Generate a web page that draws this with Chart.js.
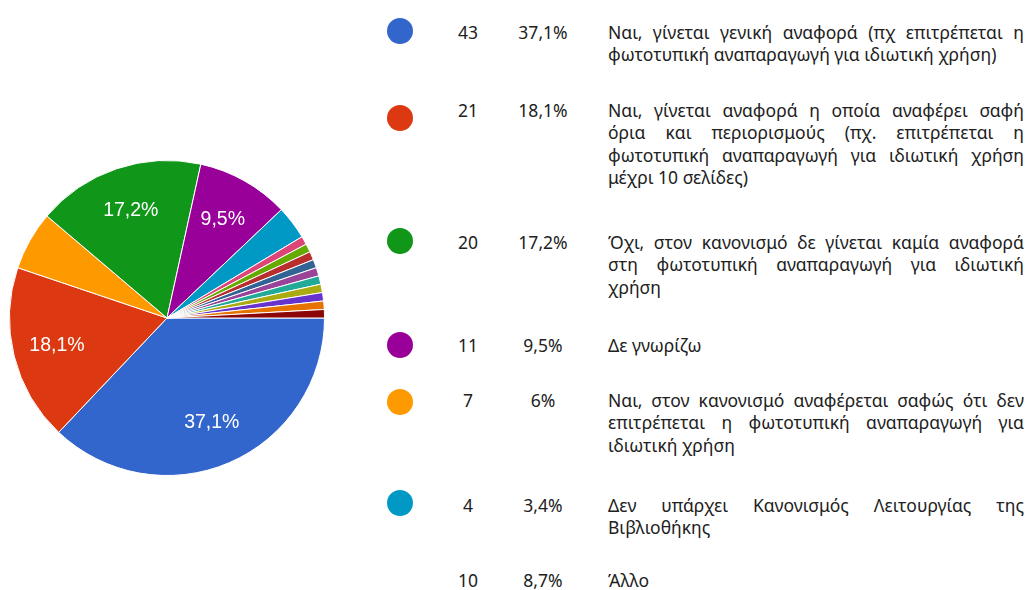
<!DOCTYPE html>
<html>
<head>
<meta charset="utf-8">
<script src="https://cdn.jsdelivr.net/npm/chart.js@4.4.1/dist/chart.umd.min.js"></script>
<style>
    html, body { margin:0; padding:0; background:#fff; }
    body { width:1033px; height:590px; position:relative; overflow:hidden;
           font-family:"Noto Sans", sans-serif; color:#212121; }
    #pieBox { position:absolute; left:9px; top:160px; width:316px; height:316px; }
    .dot { position:absolute; width:26px; height:26px; border-radius:50%; }
    .num { position:absolute; width:60px; text-align:center; font-size:17.5px; line-height:22px; }
    .txt { position:absolute; left:608px; width:416px; font-size:17.5px; }
    .line { height:22.5px; line-height:22.5px; white-space:nowrap; }
    .just { display:flex; justify-content:space-between; }
</style>
</head>
<body>
<div id="pieBox"><canvas id="chart"></canvas></div>
<div id="legend"></div>

<script>
// pie slices, in drawing order (clockwise from 3 o'clock)
const sliceValues = [43, 21, 7, 20, 11, 4, 1, 1, 1, 1, 1, 1, 1, 1, 1, 1];
const sliceColors = [
    "#3366cc","#dc3912","#ff9900","#109618","#990099","#0099c6",
    "#dd4477","#66aa00","#b82e2e","#316395","#994499","#22aa99",
    "#aaaa11","#6633cc","#e67300","#8b0707"
];

// legend table
const legendCounts = [43, 21, 20, 11, 7, 4, 10];
const legendPercents = ["37,1%", "18,1%", "17,2%", "9,5%", "6%", "3,4%", "8,7%"];
const legendColors = ["#3366cc","#dc3912","#109618","#990099","#ff9900","#0099c6", null];
const legendLines = [
    ["Ναι, γίνεται γενική αναφορά (πχ επιτρέπεται η", "φωτοτυπική αναπαραγωγή για ιδιωτική χρήση)"],
    ["Ναι, γίνεται αναφορά η οποία αναφέρει σαφή", "όρια και περιορισμούς (πχ. επιτρέπεται η",
     "φωτοτυπική αναπαραγωγή για ιδιωτική χρήση", "μέχρι 10 σελίδες)"],
    ["Όχι, στον κανονισμό δε γίνεται καμία αναφορά", "στη φωτοτυπική αναπαραγωγή για ιδιωτική", "χρήση"],
    ["Δε γνωρίζω"],
    ["Ναι, στον κανονισμό αναφέρεται σαφώς ότι δεν", "επιτρέπεται η φωτοτυπική αναπαραγωγή για", "ιδιωτική χρήση"],
    ["Δεν υπάρχει Κανονισμός Λειτουργίας της", "Βιβλιοθήκης"],
    ["Άλλο"]
];

// layout of legend rows (first line centre, dot centre)
const rowTextY = [32, 110, 242, 345, 400, 505, 580];
const rowDotY = [31, 118, 241, 345, 402, 503, null];

const legend = document.getElementById("legend");
for(let i=0;i<legendCounts.length;i++){
    const ty = rowTextY[i] - 11;
    if(legendColors[i]){
        legend.innerHTML += `<div class="dot" style="left:387px;top:${rowDotY[i]-13}px;background:${legendColors[i]}"></div>`;
    }
    legend.innerHTML += `<div class="num" style="left:438px;top:${ty}px">${legendCounts[i]}</div>`;
    legend.innerHTML += `<div class="num" style="left:513px;top:${ty}px">${legendPercents[i]}</div>`;

    const lines = legendLines[i];
    let html = "";
    lines.forEach((ln, k)=>{
        if(k < lines.length-1){
            html += `<div class="line just">${ln.split(" ").map(w=>`<span>${w}</span>`).join("")}</div>`;
        } else {
            html += `<div class="line">${ln}</div>`;
        }
    });
    legend.innerHTML += `<div class="txt" style="top:${rowTextY[i]-11.25}px">${html}</div>`;
}

const total = sliceValues.reduce((a,b)=>a+b,0);

const sliceLabels = {
    id:"sliceLabels",
    afterDatasetsDraw(chart){
        const ctx = chart.ctx;
        const meta = chart.getDatasetMeta(0);
        ctx.save();
        ctx.fillStyle = "#ffffff";
        ctx.font = "19.5px 'Liberation Sans', Arial, sans-serif";
        ctx.textAlign = "center";
        ctx.textBaseline = "middle";
        meta.data.forEach((arc, i)=>{
            const frac = sliceValues[i] / total;
            if(frac < 0.09) return;
            const p = arc.getProps(["x","y","startAngle","endAngle","outerRadius"], true);
            const mid = (p.startAngle + p.endAngle) / 2;
            const r = p.outerRadius * 0.72;
            const txt = (frac*100).toFixed(1).replace(".", ",") + "%";
            ctx.fillText(txt, p.x + Math.cos(mid)*r, p.y + Math.sin(mid)*r);
        });
        ctx.restore();
    }
};

new Chart(
    document.getElementById("chart"),
    {
        type:"pie",
        data:{
            labels:sliceValues.map((v,i)=>"slice " + (i+1)),
            datasets:[{
                data:sliceValues,
                backgroundColor:sliceColors,
                borderColor:"#ffffff",
                borderWidth:1
            }]
        },
        options:{
            responsive:true,
            maintainAspectRatio:false,
            animation:false,
            rotation:90,
            plugins:{
                legend:{ display:false },
                tooltip:{ enabled:false }
            }
        },
        plugins:[sliceLabels]
    }
);
</script>
</body>
</html>
